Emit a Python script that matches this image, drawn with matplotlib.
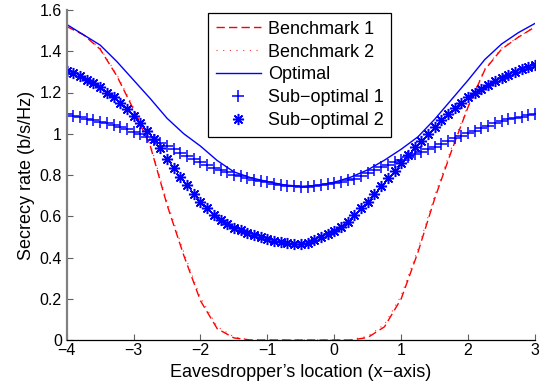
import numpy as np
import matplotlib
matplotlib.use("Agg")
import matplotlib.pyplot as plt
from matplotlib.ticker import FixedLocator

plt.rcParams['font.family'] = ['Liberation Sans', 'DejaVu Sans']

# ---------------- data ----------------
x_line = [-4.0, -3.75, -3.5, -3.25, -3.0, -2.75, -2.5, -2.25, -2.0, -1.75, -1.5, -1.25,
          -1.0, -0.75, -0.5, -0.25, 0.0, 0.25, 0.5, 0.75, 1.0, 1.25, 1.5, 1.75, 2.0,
          2.25, 2.5, 2.75, 3.0]

benchmark1 = [1.52, 1.48, 1.41, 1.28, 1.117, 0.94, 0.655, 0.41, 0.19, 0.055, 0.01, 0.0,
              0.0, 0.0, 0.0, 0.0, 0.0, 0.0, 0.012, 0.064, 0.20, 0.425, 0.685, 0.915, 1.13,
              1.31, 1.41, 1.468, 1.518]

benchmark2 = [1.52, 1.482, 1.415, 1.287, 1.125, 0.95, 0.67, 0.425, 0.205, 0.065, 0.015, 0.0,
              0.0, 0.0, 0.0, 0.0, 0.0, 0.002, 0.018, 0.075, 0.215, 0.44, 0.70, 0.93, 1.14,
              1.315, 1.415, 1.47, 1.518]

optimal = [1.53, 1.48, 1.43, 1.35, 1.26, 1.17, 1.075, 1.00, 0.94, 0.87, 0.815, 0.787,
           0.768, 0.752, 0.745, 0.75, 0.765, 0.79, 0.825, 0.872, 0.925, 0.985, 1.07, 1.165,
           1.26, 1.36, 1.435, 1.49, 1.535]

x_mark = [round(-4.0 + 0.1 * i, 1) for i in range(71)]

suboptimal1 = [1.095, 1.087, 1.080, 1.072, 1.065, 1.058, 1.050, 1.042, 1.032, 1.022,
               1.010, 0.998, 0.985, 0.970, 0.955, 0.940, 0.925, 0.905, 0.890, 0.876,
               0.862, 0.849, 0.836, 0.824, 0.813, 0.802, 0.793, 0.785, 0.777, 0.770,
               0.764, 0.758, 0.752, 0.748, 0.745, 0.744, 0.744, 0.746, 0.750, 0.755,
               0.760, 0.767, 0.775, 0.783, 0.795, 0.808, 0.822, 0.837, 0.850, 0.862,
               0.875, 0.888, 0.900, 0.912, 0.925, 0.937, 0.950, 0.963, 0.977, 0.990,
               1.003, 1.015, 1.027, 1.040, 1.052, 1.062, 1.070, 1.077, 1.083, 1.089,
               1.095]

suboptimal2 = [1.305, 1.293, 1.280, 1.263, 1.245, 1.226, 1.200, 1.178, 1.148, 1.120,
               1.086, 1.052, 1.015, 0.973, 0.930, 0.877, 0.833, 0.792, 0.750, 0.708,
               0.670, 0.638, 0.607, 0.582, 0.562, 0.545, 0.531, 0.520, 0.510, 0.500,
               0.490, 0.482, 0.475, 0.470, 0.467, 0.467, 0.472, 0.483, 0.497, 0.512,
               0.530, 0.550, 0.574, 0.606, 0.638, 0.670, 0.707, 0.745, 0.785, 0.818,
               0.856, 0.896, 0.936, 0.966, 1.000, 1.034, 1.067, 1.098, 1.124, 1.148,
               1.176, 1.197, 1.217, 1.237, 1.256, 1.270, 1.286, 1.300, 1.315, 1.326,
               1.335]

labels = ['Benchmark 1', 'Benchmark 2', 'Optimal', 'Sub\u2212optimal 1', 'Sub\u2212optimal 2']
x_ticks = [-4, -3, -2, -1, 0, 1, 2, 3]
x_ticklabels = ['\u22124', '\u22123', '\u22122', '\u22121', '0', '1', '2', '3']
y_ticks = [0, 0.2, 0.4, 0.6, 0.8, 1.0, 1.2, 1.4, 1.6]
y_ticklabels = ['0', '0.2', '0.4', '0.6', '0.8', '1', '1.2', '1.4', '1.6']

# ---------------- figure ----------------
W, H = 549, 389
fig = plt.figure(figsize=(W / 100, H / 100), dpi=100)
ax = fig.add_axes([66.7 / W, 49 / H, 468.3 / W, 330 / H])

red = '#ff0000'
blue = '#0000ff'

ax.plot(x_line, benchmark1, color=red, lw=1.0, linestyle=(0, (6, 3)), label=labels[0])
ax.plot(x_line, benchmark2, color=red, lw=0.8, linestyle=(0, (1, 5)), alpha=0.8, label=labels[1])
ax.plot(x_line, optimal, color=blue, lw=1.0, label=labels[2])
ax.plot(x_mark, suboptimal1, linestyle='none', marker='+', markersize=8, mew=1.1,
        color=blue, label=labels[3])
ax.plot(x_mark, suboptimal2, linestyle='none', marker=(8, 2, 0), markersize=8, mew=1.1,
        color=blue, label=labels[4])

ax.set_xlim(-4, 3)
ax.set_ylim(0, 1.6)
ax.xaxis.set_major_locator(FixedLocator(x_ticks))
ax.set_xticklabels(x_ticklabels)
ax.yaxis.set_major_locator(FixedLocator(y_ticks))
ax.set_yticklabels(y_ticklabels)

for s in ['top', 'right']:
    ax.spines[s].set_visible(False)
ax.spines['left'].set_color('#808080')
ax.spines['left'].set_linewidth(1.6)
ax.spines['bottom'].set_color('black')
ax.spines['bottom'].set_linewidth(0.9)

ax.tick_params(axis='both', direction='in', length=4, labelsize=11.5)
ax.tick_params(axis='y', colors='#606060', labelcolor='black', pad=3.5)
ax.tick_params(axis='x', colors='#606060', labelcolor='black', pad=2.5)

ax.set_xlabel('Eavesdropper\u2019s location (x\u2212axis)', fontsize=13, labelpad=4)
ax.set_ylabel('Secrecy rate (b/s/Hz)', fontsize=13, labelpad=3)

leg = ax.legend(loc='upper left', bbox_to_anchor=(0.302, 0.991), fontsize=13,
                frameon=True, fancybox=False, framealpha=1, edgecolor='black',
                handlelength=2.5, handletextpad=0.4, labelspacing=0.33,
                borderpad=0.42, borderaxespad=0)
leg.get_frame().set_linewidth(0.9)

fig.savefig('out.png', dpi=100)
